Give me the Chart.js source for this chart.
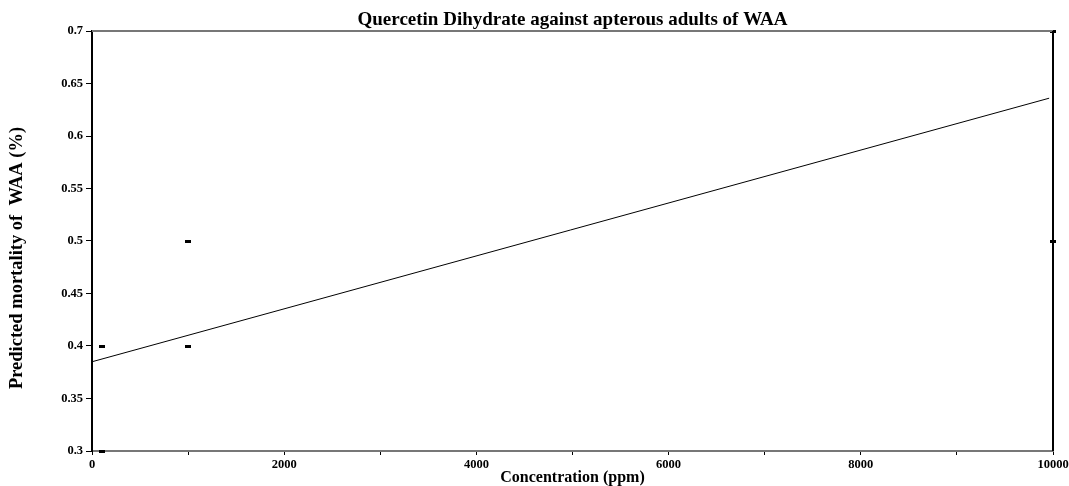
<!DOCTYPE html>
<html>
<head>
<meta charset="utf-8">
<script src="https://cdn.jsdelivr.net/npm/chart.js@4"></script>
<style>
html,body{margin:0;padding:0;background:#fff;}
#wrap{width:1069px;height:486px;}
</style>
</head>
<body>
<div id="wrap"><canvas id="c" width="1069" height="486"></canvas></div>
<script>
// Data
const titleText = "Quercetin Dihydrate against apterous adults of WAA";
const xTitle = "Concentration (ppm)";
const yTitle = "Predicted mortality of  WAA (%)";
const obsX = [100, 100, 1000, 1000, 10000, 10000];
const obsY = [0.4, 0.3, 0.5, 0.4, 0.7, 0.5];
const fitX = [0, 9960];
const fitY = [0.385, 0.636];
const xMin = 0, xMax = 10000, xStep = 1000, xLabelEvery = 2000;
const yMin = 0.3, yMax = 0.7, yStep = 0.05;

const FONT = "'Liberation Serif', 'Times New Roman', serif";

const dash = document.createElement('canvas');
dash.width = 6; dash.height = 3;
const dctx = dash.getContext('2d');
dctx.fillStyle = '#000';
dctx.fillRect(0, 0, 6, 3);

const framePlugin = {
  id: 'frame',
  afterDatasetsDraw(chart) {
    const {ctx, chartArea: a} = chart;
    ctx.save();
    ctx.strokeStyle = '#777';
    ctx.lineWidth = 2;
    ctx.beginPath();
    ctx.moveTo(a.left, a.top); ctx.lineTo(a.right, a.top);
    ctx.stroke();
    ctx.strokeStyle = '#000';
    ctx.beginPath();
    ctx.moveTo(a.right, a.top); ctx.lineTo(a.right, a.bottom);
    ctx.stroke();
    ctx.restore();
  },
  afterDraw(chart) {
    const ctx = chart.ctx;
    ctx.save();
    ctx.translate(17, 258);
    ctx.rotate(-Math.PI / 2);
    ctx.fillStyle = '#000';
    ctx.font = "bold 18.5px " + FONT;
    ctx.textAlign = 'center';
    ctx.textBaseline = 'middle';
    ctx.fillText(yTitle, 0, 0);
    ctx.restore();
  }
};

new Chart(document.getElementById('c'), {
  type: 'scatter',
  data: {
    datasets: [
      {
        label: 'Fit',
        type: 'line',
        data: fitX.map((x, i) => ({x, y: fitY[i]})),
        borderColor: '#000',
        borderWidth: 1,
        pointRadius: 0,
        fill: false,
        tension: 0
      },
      {
        label: 'Observed',
        data: obsX.map((x, i) => ({x, y: obsY[i]})),
        pointStyle: dash,
        pointRadius: 3,
        backgroundColor: '#000',
        borderColor: '#000',
        clip: false
      }
    ]
  },
  options: {
    responsive: false,
    animation: false,
    devicePixelRatio: 1,
    layout: { padding: { left: 0, right: 0, top: 0, bottom: 0 } },
    plugins: {
      legend: { display: false },
      tooltip: { enabled: false },
      title: {
        display: true,
        fullSize: false,
        text: titleText,
        color: '#000',
        font: { family: FONT, size: 19, weight: 'bold', lineHeight: 1.15 },
        padding: { top: 9, bottom: 0.15 }
      }
    },
    scales: {
      x: {
        type: 'linear',
        min: xMin, max: xMax,
        afterBuildTicks(scale) {
          const t = [];
          for (let v = xMin; v <= xMax; v += xStep) t.push({value: v});
          scale.ticks = t;
        },
        afterFit(scale) {
          scale.height = 35;
          scale.paddingLeft = 0;
          scale.paddingRight = 16;
        },
        ticks: {
          color: '#000',
          font: { family: FONT, size: 12.5, weight: 'bold' },
          maxRotation: 0,
          autoSkip: false,
          padding: 2,
          callback: (v) => (v % xLabelEvery === 0 ? String(v) : '')
        },
        grid: { drawOnChartArea: false, drawTicks: true, tickLength: 4, color: '#000', lineWidth: 1 },
        border: { color: '#777', width: 2 },
        title: {
          display: true,
          text: xTitle,
          color: '#000',
          font: { family: FONT, size: 16, weight: 'bold', lineHeight: 1.05 },
          padding: { top: 0, bottom: 0 }
        }
      },
      y: {
        type: 'linear',
        min: yMin, max: yMax,
        afterBuildTicks(scale) {
          const t = [];
          for (let i = 0; i <= Math.round((yMax - yMin) / yStep); i++) t.push({value: +(yMin + i * yStep).toFixed(2)});
          scale.ticks = t;
        },
        afterFit(scale) { scale.width = 92; },
        ticks: {
          color: '#000',
          font: { family: FONT, size: 12.5, weight: 'bold' },
          padding: 3,
          callback: (v) => String(+v.toFixed(2))
        },
        grid: { drawOnChartArea: false, drawTicks: true, tickLength: 6, color: '#000', lineWidth: 1 },
        border: { color: '#000', width: 2 },
        title: { display: false }
      }
    }
  },
  plugins: [framePlugin]
});
</script>
</body>
</html>
